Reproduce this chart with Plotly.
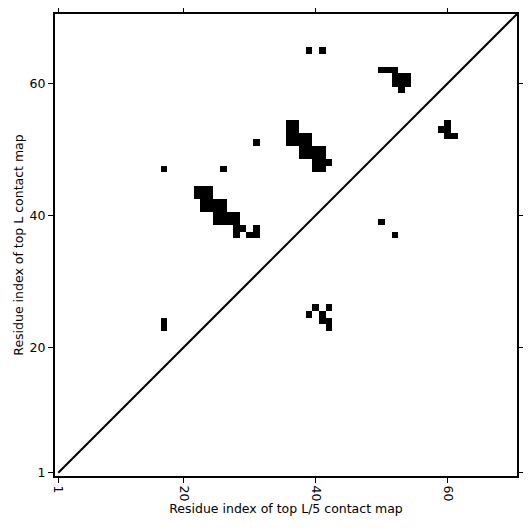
import numpy as np
import plotly.graph_objects as go

n_residues = 70

# contacts above the diagonal (x = residue i, y = residue j)
upper_i = [17, 26, 31, 39, 41,
           22, 23, 24, 22, 23, 24,
           23, 24, 25, 26, 23, 24, 25, 26,
           25, 26, 27, 28, 25, 26, 27, 28,
           28, 29, 31,
           28, 30, 31,
           36, 37, 36, 37,
           36, 37, 38, 39, 36, 37, 38, 39,
           38, 39, 40, 41, 38, 39, 40, 41,
           40, 41, 42,
           40, 41,
           50, 51, 52,
           52, 53, 54, 52, 53, 54,
           53]
upper_j = [47, 47, 51, 65, 65,
           44, 44, 44, 43, 43, 43,
           42, 42, 42, 42, 41, 41, 41, 41,
           40, 40, 40, 40, 39, 39, 39, 39,
           38, 38, 38,
           37, 37, 37,
           54, 54, 53, 53,
           52, 52, 52, 52, 51, 51, 51, 51,
           50, 50, 50, 50, 49, 49, 49, 49,
           48, 48, 48,
           47, 47,
           62, 62, 62,
           61, 61, 61, 60, 60, 60,
           59]

# contacts below the diagonal
lower_i = [17, 17, 50, 52,
           40, 42, 39, 41, 41, 42, 42,
           59, 60, 60, 60, 61]
lower_j = [24, 23, 39, 37,
           26, 26, 25, 25, 24, 24, 23,
           53, 54, 53, 52, 52]

tick_values = [1, 20, 40, 60]
x_title = "Residue index of top L/5 contact map"
y_title = "Residue index of top L contact map"

residues = list(range(1, n_residues + 1))
z = np.zeros((n_residues, n_residues))
for i, j in zip(upper_i + lower_i, upper_j + lower_j):
    z[j - 1, i - 1] = 1

font = dict(family="DejaVu Sans", size=12.5, color="black")

fig = go.Figure()
fig.add_trace(go.Heatmap(
    x=residues, y=residues, z=z,
    colorscale=[[0, "white"], [1, "black"]],
    zmin=0, zmax=1, showscale=False, hoverinfo="skip",
))
fig.add_trace(go.Scatter(
    x=[1, n_residues + 1], y=[1, n_residues + 1],
    mode="lines", line=dict(color="black", width=2),
    showlegend=False, hoverinfo="skip",
))

axis_common = dict(
    range=[0.5, n_residues + 0.5],
    tickvals=tick_values,
    ticktext=[str(v) for v in tick_values],
    ticks="outside", ticklen=5, tickwidth=1, tickcolor="black",
    showline=True, linewidth=2, linecolor="black",
    mirror="allticks", showgrid=False, zeroline=False,
    tickfont=font, automargin=False,
)

# page body has an 8px margin, so margins are offset to place the plot area
fig.update_layout(
    width=531, height=531,
    margin=dict(l=47, r=22, t=6, b=63, autoexpand=False),
    plot_bgcolor="white", paper_bgcolor="white",
    font=font,
    showlegend=False,
    xaxis=dict(**axis_common, tickangle=90,
               title=dict(text=x_title, font=font, standoff=2)),
    yaxis=dict(**axis_common, tickangle=0,
               title=dict(text=y_title, font=font, standoff=3)),
)

fig.write_html("out.html")
